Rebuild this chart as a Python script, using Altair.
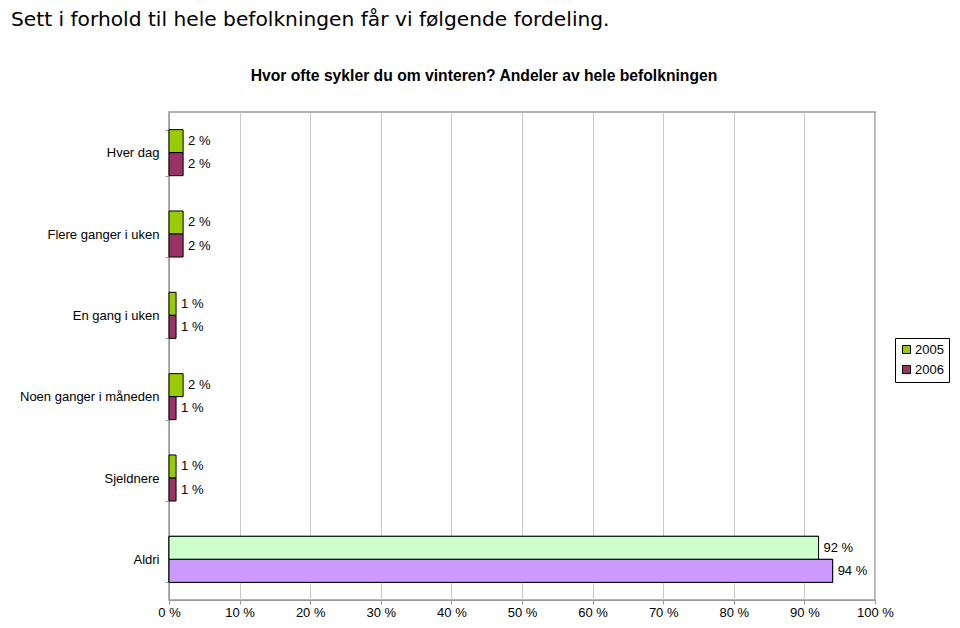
import altair as alt
import pandas as pd

categories = ["Hver dag", "Flere ganger i uken", "En gang i uken",
              "Noen ganger i måneden", "Sjeldnere", "Aldri"]
years = ["2005", "2006"]
v2005 = [2, 2, 1, 2, 1, 92]
v2006 = [2, 2, 1, 1, 1, 94]
series_colors = ["#99CC00", "#993366"]
aldri_colors = ["#CCFFCC", "#CC99FF"]
x_ticks = list(range(0, 101, 10))

main_title = "Sett i forhold til hele befolkningen får vi følgende fordeling."
chart_title = "Hvor ofte sykler du om vinteren? Andeler av hele befolkningen"

rows = []
for yi, (yr, vals) in enumerate(zip(years, [v2005, v2006])):
    for c, v in zip(categories, vals):
        rows.append({"category": c, "year": yr, "value": v,
                     "label": f"{v} %", "fill": aldri_colors[yi]})
df = pd.DataFrame(rows)

FONT = "Liberation Sans"

x = alt.X("value:Q",
          scale=alt.Scale(domain=[0, 100], nice=False, zero=True),
          axis=alt.Axis(values=x_ticks, labelExpr="datum.value + ' %'", title=None,
                        grid=True, gridColor="#c8c8c8", gridWidth=1,
                        domainColor="#999999", tickColor="#999999", tickSize=4,
                        labelPadding=2, labelFont=FONT, labelFontSize=13,
                        labelColor="black", labelFlush=False))
y = alt.Y("category:N", sort=categories,
          scale=alt.Scale(paddingInner=0.434, paddingOuter=0.217),
          axis=alt.Axis(title=None, tickBand="extent", grid=False,
                        domainColor="#999999", tickColor="#999999", tickSize=4,
                        labelPadding=6, labelFont=FONT, labelFontSize=13,
                        labelColor="black"))
yo = alt.YOffset("year:N", sort=years)

base = alt.Chart(df)

bars = base.mark_bar(stroke="black", strokeWidth=1).encode(
    x=x, y=y, yOffset=yo,
    color=alt.Color("year:N", scale=alt.Scale(domain=years, range=series_colors),
                    legend=alt.Legend(title=None, orient="none", legendX=726, legendY=226,
                                      strokeColor="black", fillColor="white", padding=5,
                                      symbolType="square", symbolSize=64,
                                      symbolStrokeColor="black", symbolStrokeWidth=1,
                                      labelFont=FONT, labelFontSize=13, labelColor="black",
                                      rowPadding=6, labelOffset=2)))

aldri = base.transform_filter(alt.datum.category == "Aldri").mark_bar(
    stroke="black", strokeWidth=1).encode(
    x=x, y=y, yOffset=yo, fill=alt.Fill("fill:N", scale=None))

labels = base.mark_text(align="left", baseline="middle", dx=5, font=FONT,
                        fontSize=13, color="black").encode(
    x=x, y=y, yOffset=yo, text="label:N")

tdata = alt.Data(values=[{"a": 1}])
t1 = alt.Chart(tdata).mark_text(text=main_title, align="left", baseline="alphabetic",
                                font="DejaVu Sans", fontSize=20.2, color="black").encode(
    x=alt.value(-158), y=alt.value(-86))
t2 = alt.Chart(tdata).mark_text(text=chart_title, align="center", baseline="alphabetic",
                                font=FONT, fontSize=15.7, fontWeight="bold", color="black").encode(
    x=alt.value(315), y=alt.value(-31))

chart = alt.layer(bars, aldri, labels, t1, t2).properties(
    width=706, height=488,
    autosize=alt.AutoSizeParams(type="none"),
    padding={"left": 161, "top": 104, "right": 77, "bottom": 20},
    background="white",
).configure_view(stroke="#999999", strokeWidth=1.5)

chart.save("out.html", embed_options={"renderer": "svg", "actions": False})
